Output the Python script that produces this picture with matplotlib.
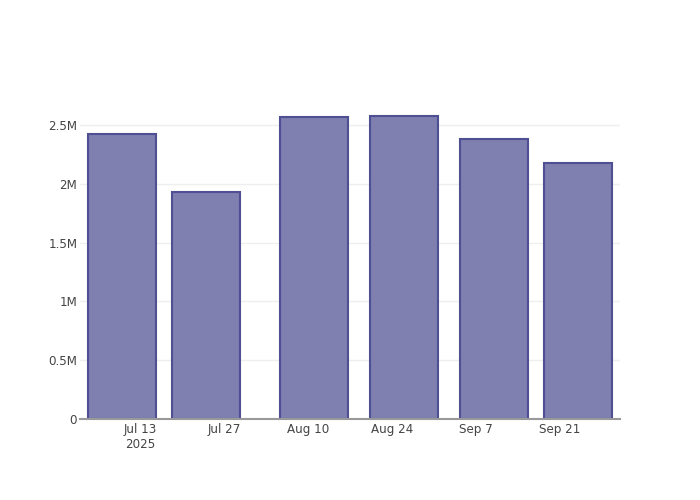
import matplotlib
matplotlib.use("Agg")
import matplotlib.pyplot as plt
import matplotlib.dates as mdates
import numpy as np

# weekly-ish totals
dates = np.array(["2025-07-10", "2025-07-24", "2025-08-11",
                  "2025-08-26", "2025-09-10", "2025-09-24"], dtype="datetime64[D]")
values = [2.423e6, 1.930e6, 2.568e6, 2.577e6, 2.381e6, 2.177e6]

tick_dates = np.array(["2025-07-13", "2025-07-27", "2025-08-10",
                       "2025-08-24", "2025-09-07", "2025-09-21"], dtype="datetime64[D]")
tick_labels = ["Jul 13\n2025", "Jul 27", "Aug 10", "Aug 24", "Sep 7", "Sep 21"]
y_ticks = [0, 0.5e6, 1e6, 1.5e6, 2e6, 2.5e6]
y_labels = ["0", "0.5M", "1M", "1.5M", "2M", "2.5M"]

fig = plt.figure(figsize=(7, 5), dpi=100)
ax = fig.add_axes([80 / 700, 81 / 500, 540 / 700, 319 / 500])

x = mdates.date2num(dates.astype(object))
ax.bar(x, values, width=11.2, color="#7f7fb0", edgecolor="#4f4f94",
       linewidth=1.5, zorder=2)

x0 = mdates.date2num(np.datetime64("2025-07-03").astype(object))
ax.set_xlim(x0, x0 + 90)
ax.set_ylim(0, 2.713e6)

ax.set_xticks(mdates.date2num(tick_dates.astype(object)))
ax.set_xticklabels(tick_labels)
ax.set_yticks(y_ticks)
ax.set_yticklabels(y_labels)

ax.grid(axis="y", color="#eeeeee", lw=1, zorder=0)
for s in ["top", "right", "left"]:
    ax.spines[s].set_visible(False)
ax.spines["bottom"].set_color("#999999")
ax.spines["bottom"].set_linewidth(1.5)
ax.spines["bottom"].set_zorder(3)
ax.tick_params(axis="both", length=0, labelsize=8.6, colors="#444444")
ax.tick_params(axis="x", pad=3)
ax.tick_params(axis="y", pad=2)

fig.savefig("out.png", dpi=100)
